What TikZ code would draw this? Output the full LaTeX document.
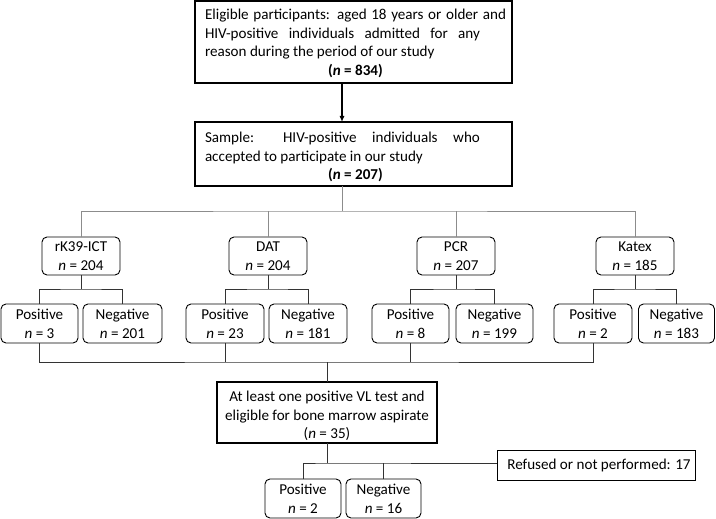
\documentclass[tikz,border=0pt]{standalone}
\usepackage{fontspec}
\setmainfont{Carlito}
\usetikzlibrary{arrows.meta}
\begin{document}
\begin{tikzpicture}[x=1pt,y=-1pt,
  every node/.style={inner sep=0pt, outer sep=0pt},
  fnt/.style={font=\fontsize{15.1}{18.7}\selectfont},
  sqbox/.style={draw=black, line width=1.1pt, rectangle, fnt},
  rbox/.style={draw=black, line width=0.9pt, rectangle, rounded corners=5pt, align=center, fnt},
  gline/.style={draw=gray!90, line width=0.8pt},
  dline/.style={draw=black!80, line width=0.8pt},
  arr/.style={draw=black, line width=1.1pt, -{Latex[length=6pt,width=5pt]}}
]
\useasboundingbox (0,0) rectangle (716,519);
\node[sqbox, minimum width=317pt, minimum height=82pt, anchor=north west] (b1) at (195,1) {};
\node[anchor=north west, align=left, fnt] (t1) at (205,9)
 {\makebox[301pt][s]{Eligible participants: aged 18 years or older and}\\
  \makebox[275pt][s]{HIV-positive individuals admitted for any}\\
  reason during the period of our study\\
  \makebox[301pt][c]{\textbf{(\textit{n} = 834)}}};
\node[sqbox, minimum width=317pt, minimum height=64pt, anchor=north west] (b2) at (195,122) {};
\node[anchor=north west, align=left, fnt] (t2) at (205,132)
 {\makebox[275pt][s]{Sample: HIV-positive individuals who}\\
  accepted to participate in our study\\
  \makebox[301pt][c]{\textbf{(\textit{n} = 207)}}};
\coordinate (a1) at (342,83);
\coordinate (a2) at (342,122);
\draw[arr] (a1) -- (a2);

\tikzset{test/.style={rbox, minimum width=78pt, minimum height=38pt}}
\tikzset{res/.style={rbox, minimum width=77pt, minimum height=39pt}}
\node[test] (rk) at (81,256) {rK39-ICT\\\textit{n} = 204};
\node[test] (dat) at (268,256) {DAT\\\textit{n} = 204};
\node[test] (pcr) at (456,256) {PCR\\\textit{n} = 207};
\node[test] (kat) at (635,256) {Katex\\\textit{n} = 185};

\node[res] (rkp) at (39.5,323.5) {Positive\\\textit{n} = 3};
\node[res, minimum width=79pt] (rkn) at (122.5,323.5) {Negative\\\textit{n} = 201};
\node[res, minimum width=78pt] (datp) at (225,323.5) {Positive\\\textit{n} = 23};
\node[res, minimum width=78pt] (datn) at (308,323.5) {Negative\\\textit{n} = 181};
\node[res] (pcrp) at (410.5,323.5) {Positive\\\textit{n} = 8};
\node[res] (pcrn) at (494.5,323.5) {Negative\\\textit{n} = 199};
\node[res, minimum width=78pt] (katp) at (593,323.5) {Positive\\\textit{n} = 2};
\node[res, minimum width=76pt] (katn) at (676.5,323.5) {Negative\\\textit{n} = 183};

\coordinate (h1) at (342,211);
\draw[gline] (a2 |- b2.south) -- (h1);
\draw[gline] (rk.north) |- (h1) -| (kat.north);
\draw[gline] (dat.north) -- (dat.north |- h1);
\draw[gline] (pcr.north) -- (pcr.north |- h1);

\foreach \t/\p/\n in {rk/rkp/rkn, dat/datp/datn, pcr/pcrp/pcrn, kat/katp/katn}{
  \draw[dline] (\t.south) -- (\t.south |- 0,289);
  \draw[dline] (\p.north) |- (\t.south |- 0,289) -| (\n.north);
}

\node[sqbox, minimum width=220pt, minimum height=61pt, anchor=north west] (b3) at (217,382) {};
\node[align=center, fnt] (t3) at (327,416)
 {At least one positive VL test and\\eligible for bone marrow aspirate\\(\textit{n} = 35)};
\coordinate (h2) at (b3.north |- 0,362);
\draw[dline] (rkp.south) |- (h2) -| (katp.south);
\draw[dline] (datp.south) -- (datp.south |- h2);
\draw[dline] (pcrp.south) -- (pcrp.south |- h2);
\draw[dline] (h2) -- (b3.north);

\node[sqbox, line width=0.9pt, minimum width=198pt, minimum height=30pt, anchor=north west] (ref) at (497,450) {\hspace{6pt}Refused or not performed: 17};
\node[rbox, minimum width=76pt, minimum height=39pt] (fp) at (303,498.5) {Positive\\\textit{n} = 2};
\node[rbox, minimum width=75pt, minimum height=39pt] (fn) at (383.5,498.5) {Negative\\\textit{n} = 16};
\coordinate (h3) at (b3.south |- 0,463);
\draw[dline] (b3.south) -- (h3);
\draw[dline] (fp.north) |- (h3) -- (ref.west |- h3);
\draw[dline] (fn.north) -- (fn.north |- h3);
\end{tikzpicture}
\end{document}
